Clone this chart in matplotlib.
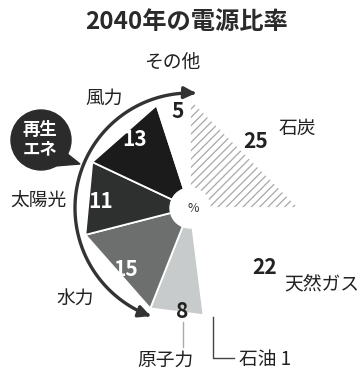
import numpy as np
import matplotlib.pyplot as plt
from matplotlib.patches import Polygon, Circle, FancyArrowPatch
from matplotlib.path import Path

plt.rcParams['font.family'] = ['Noto Sans CJK JP', 'DejaVu Sans']
plt.rcParams['hatch.linewidth'] = 0.9

# 2040年の電源比率 (%), clockwise from 12 o'clock
sources = ['石炭', '天然ガス', '石油', '原子力', '水力', '太陽光', '風力', 'その他']
shares = [25, 22, 1, 8, 15, 11, 13, 5]

# look of each slice
fills = ['white', 'white', 'white', '#c8cbcb', '#6d6f6f', '#2e2f2f', '#1b1b1b', 'white']
num_colors = ['#222', '#222', '#222', '#222', 'white', 'white', 'white', '#222']

# where the names and numbers sit (pixels, y down)
name_pos = {'石炭': (297, 128), '天然ガス': (322, 284), '原子力': (165, 360),
            '水力': (75, 298), '太陽光': (38, 201), '風力': (104, 98), 'その他': (172, 62)}
num_pos = {'石炭': (256, 142), '天然ガス': (265, 267), '原子力': (182, 312),
           '水力': (126, 270), '太陽光': (101, 202), '風力': (135, 139), 'その他': (178, 112)}

W, H = 363, 380
fig = plt.figure(figsize=(W / 100, H / 100), dpi=100)
ax = fig.add_axes([0, 0, 1, 1])
ax.set_xlim(0, W)
ax.set_ylim(H, 0)
ax.axis('off')

cx, cy, r = 190, 208, 108

# straight-edged slices: triangle from center to two rim points
edges = np.concatenate([[0], np.cumsum(shares)]) / sum(shares) * 2 * np.pi
for i, name in enumerate(sources):
    a0, a1 = edges[i], edges[i + 1]
    pts = [(cx, cy),
           (cx + r * np.sin(a0), cy - r * np.cos(a0)),
           (cx + r * np.sin(a1), cy - r * np.cos(a1))]
    if name == '石炭':
        ax.add_patch(Polygon(pts, closed=True, facecolor='white',
                             edgecolor='#a8a8a8', hatch='////', lw=0, zorder=1))
    else:
        ax.add_patch(Polygon(pts, closed=True, facecolor=fills[i],
                             edgecolor='white', lw=1.3, zorder=2))

ax.add_patch(Circle((cx, cy), 20, color='white', zorder=3))
ax.text(193, 208, '%', fontsize=9, ha='center', va='center', color='#333', zorder=4)

for i, name in enumerate(sources):
    if name in num_pos:
        x, y = num_pos[name]
        ax.text(x, y, str(shares[i]), fontsize=15, fontweight='bold',
                ha='center', va='center', color=num_colors[i], zorder=5)
    if name in name_pos:
        x, y = name_pos[name]
        ax.text(x, y, name, fontsize=13.5, ha='center', va='center', color='#222', zorder=5)

# 石油 label with its leader line
ax.text(265, 360, '石油 1', fontsize=13.5, ha='center', va='center', color='#222')
ax.plot([213, 213, 234], [317, 358, 358], color='#444', lw=1)
ax.plot([183, 183], [322, 347], color='#aaa', lw=1)

# curved double arrow round the renewables
R = 115
t = np.radians(np.linspace(87, 250, 120))
arc = np.column_stack([cx + R * np.cos(t), cy - R * np.sin(t)])
ax.add_patch(FancyArrowPatch(path=Path(arc), arrowstyle='<|-|>,head_length=7,head_width=3.5',
                             lw=2.4, color='#333', zorder=6))

# badge
ax.add_patch(Circle((41, 140), 30, color='#2b2b2b', zorder=6))
ax.add_patch(Polygon([(60, 148), (80, 164), (55, 166)], closed=True, color='#2b2b2b', zorder=6))
ax.text(40, 140, '再生\nエネ', fontsize=12.5, fontweight='bold', color='white',
        ha='center', va='center', linespacing=1.1, zorder=7)

ax.text(187, 22, '2040年の電源比率', fontsize=17.5, fontweight='bold',
        ha='center', va='center', color='#2a2a2a')

fig.savefig('out.png', dpi=100)
